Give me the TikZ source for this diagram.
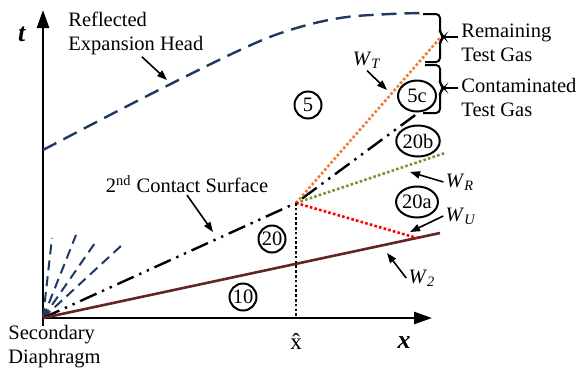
\documentclass[tikz,border=0pt]{standalone}
\usepackage{fontspec}
\setmainfont{Liberation Serif}
\usetikzlibrary{positioning, arrows.meta, shapes.geometric}
\definecolor{headblue}{RGB}{31,56,100}
\definecolor{wtorange}{RGB}{237,125,49}
\definecolor{wrgreen}{RGB}{119,147,60}
\definecolor{w2brown}{RGB}{99,37,35}
\newcommand{\wave}[1]{\textit{W}\textsubscript{\textit{#1}}}

\begin{document}
\begin{tikzpicture}[x=0.5pt, y=-0.5pt, >={Triangle[length=5pt,width=3.6pt]},
    font=\fontsize{10.25}{12}\selectfont,
    region/.style={draw, circle, line width=1pt, minimum size=13.5pt, inner sep=0pt},
    subregion/.style={draw, ellipse, line width=1pt, minimum width=19pt, minimum height=15.5pt, inner sep=0pt},
    pointer/.style={->, line width=0.8pt},
    dotline/.style={line width=1.3pt, dash pattern=on 1.3pt off 1.1pt},
    axis/.style={line width=1.3pt, -{Triangle[length=9pt,width=6pt]}}]
    \useasboundingbox (0,0) rectangle (577,370);

    % points of the diagram
    \coordinate (O) at (43,318);
    \coordinate (P) at (296,203);
    \coordinate (tTop) at (43,10);
    \coordinate (tFoot) at (43,326);
    \coordinate (xEnd) at (432,318);
    \coordinate (csEnd) at (418,113);
    \coordinate (w2End) at (440,233);
    \coordinate (wtEnd) at (440,38);
    \coordinate (wrEnd) at (445,153);
    \coordinate (wuEnd) at (417,238);

    % axes
    \draw[axis] (tFoot) -- (tTop);
    \draw[axis] (O) -- (xEnd);
    \node (lblT) at (22,34) {\fontsize{13}{13}\selectfont\textbf{\textit{t}}};
    \node (lblX) at (404,343) {\fontsize{13}{13}\selectfont\textbf{\textit{x}}};
    \node (lblXhat) at (296,341) {\fontsize{11.5}{12}\selectfont\^{x}};

    % waves
    \draw[headblue, line width=1.2pt, dash pattern=on 7.5pt off 4pt]
        plot[smooth, tension=0.6] coordinates {(43,150) (143,98) (240,50) (290,30) (340,18) (390,14) (427,13)};
    \foreach \fx/\fy in {52/238, 76/235, 97/240, 122/245}
        \draw[headblue, line width=1pt, dash pattern=on 5pt off 3pt] (O) -- (\fx,\fy);
    \draw[line width=1.2pt, dash pattern=on 9pt off 3pt on 1.2pt off 3pt on 1.2pt off 3pt] (O) -- (P) -- (csEnd);
    \draw[w2brown, line width=1.3pt] (O) -- (w2End);
    \draw[wtorange, dotline] (P) -- (wtEnd);
    \draw[wrgreen, dotline] (P) -- (wrEnd);
    \draw[red, dotline] (P) -- (wuEnd);
    \draw[dotline, line width=1.1pt] (P) -- (P |- O);

    % regions
    \node[region] (r5) at (308,105) {5};
    \node[subregion] (r5c) at (417,96) {5c};
    \node[subregion] (r20b) at (418,141) {20b};
    \node[subregion] (r20a) at (417,202) {20a};
    \node[region] (r20) at (272,239) {20};
    \node[region] (r10) at (243,297) {10};

    % braces
    \draw[line width=1pt, rounded corners=2pt] (423,14) -- (440,14) -- (440,33) -- (444,37) -- (440,41) -- (440,62) -- (425,62);
    \draw[line width=1pt, rounded corners=2pt] (425,65) -- (440,65) -- (440,84) -- (444,88) -- (440,92) -- (440,113) -- (423,113);
    \coordinate (bRem) at (443,37);
    \coordinate (bCon) at (443,88);
    \node[align=left, anchor=west, inner sep=1.5pt] (lblRem) at (458,43) {Remaining\\Test Gas};
    \node[align=left, anchor=west, inner sep=1.5pt] (lblCon) at (458,97) {Contaminated\\Test Gas};
    \draw[line width=1pt] (bRem) -- (bRem -| lblRem.west);
    \draw[line width=1pt] (bCon) -- (bCon -| lblCon.west);

    % labels and pointers
    \node[align=left, anchor=west, inner sep=1pt] (lblREH) at (66,33) {Reflected\\Expansion Head};
    \node[inner sep=1pt] (lblCS) at (187,184) {2\textsuperscript{nd} Contact Surface};
    \node[align=left, anchor=west, inner sep=1pt] (lblSD) at (6,347) {Secondary\\Diaphragm};
    \node[inner sep=1pt] (lblWT) at (367,60) {\wave{T}};
    \node[inner sep=1pt] (lblWR) at (460,182) {\wave{R}};
    \node[inner sep=1pt] (lblWU) at (461,216) {\wave{U}};
    \node[inner sep=1pt] (lblW2) at (422,278) {\wave{2}};
    \coordinate (tREH) at (167,80);
    \coordinate (tCS) at (213,232);
    \coordinate (tWT) at (387,90);
    \coordinate (tWR) at (410,172);
    \coordinate (tWU) at (410,232);
    \coordinate (tW2) at (387,253);
    \draw[pointer] ([xshift=3pt]lblREH.south) -- (tREH);
    \draw[pointer] (lblCS.south) -- (tCS);
    \draw[pointer] (lblWT.south) -- (tWT);
    \draw[pointer] (lblWR.west) -- (tWR);
    \draw[pointer] (lblWU.west) -- (tWU);
    \draw[pointer] (lblW2.west) -- (tW2);
\end{tikzpicture}
\end{document}
